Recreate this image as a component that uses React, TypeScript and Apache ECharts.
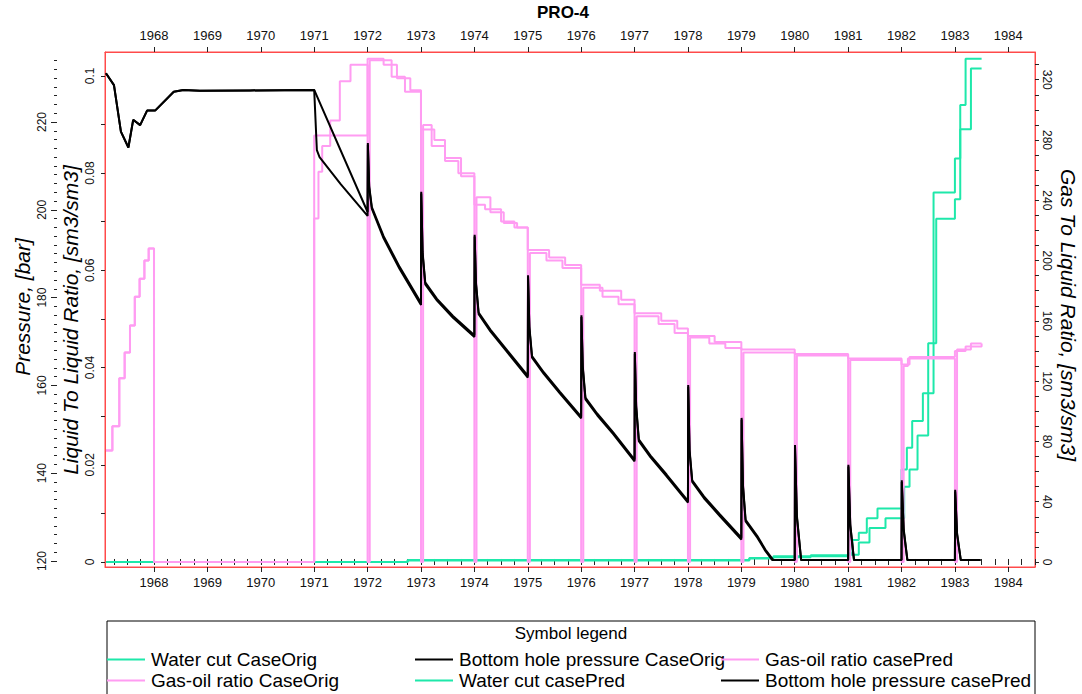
import React, { useEffect, useRef } from 'react';
import * as echarts from 'echarts';

const chartTitle = 'PRO-4';
const yearTicks = [1968, 1969, 1970, 1971, 1972, 1973, 1974, 1975, 1976, 1977, 1978, 1979, 1980, 1981, 1982, 1983, 1984];
const pressureLabels = [120, 140, 160, 180, 200, 220];
const ltlLabels = [0, 0.02, 0.04, 0.06, 0.08, 0.1];
const glrLabels = [0, 40, 80, 120, 160, 200, 240, 280, 320];

const seriesNames = {
  wcOrig: 'Water cut CaseOrig',
  wcPred: 'Water cut casePred',
  gorOrig: 'Gas-oil ratio CaseOrig',
  gorPred: 'Gas-oil ratio casePred',
  bhpOrig: 'Bottom hole pressure CaseOrig',
  bhpPred: 'Bottom hole pressure casePred',
};

// Bottom hole pressure [bar]
const bhpHistory = [
  [1967.10, 231.1], [1967.25, 228.4], [1967.38, 217.8], [1967.52, 214.2], [1967.61, 220.5],
  [1967.74, 219.3], [1967.87, 222.6], [1968.02, 222.6], [1968.37, 226.9], [1968.55, 227.3],
  [1968.86, 227.1], [1969.8, 227.2], [1971.0, 227.3],
];
const bhpPredFuture = [
  [1971.05, 213.6], [1971.1, 212.0], [1971.5, 205.8], [1972.0, 198.6],
  [1972.005, 215.2], [1972.03, 205.0], [1972.08, 200.2], [1972.3, 193.5], [1972.6, 186.5], [1973.0, 178.3],
  [1973.005, 204.1], [1973.03, 190.0], [1973.08, 183.0], [1973.3, 179.3], [1973.6, 175.4], [1974.0, 171.0],
  [1974.005, 194.3], [1974.03, 183.0], [1974.08, 176.2], [1974.3, 172.3], [1974.6, 167.8], [1975.0, 161.8],
  [1975.005, 185.1], [1975.03, 173.0], [1975.08, 166.3], [1975.3, 162.6], [1975.6, 158.2], [1976.0, 152.5],
  [1976.005, 176.0], [1976.03, 164.0], [1976.08, 156.8], [1976.3, 153.2], [1976.6, 148.9], [1977.0, 142.7],
  [1977.005, 167.6], [1977.03, 155.0], [1977.08, 147.3], [1977.3, 143.6], [1977.6, 139.3], [1978.0, 133.3],
  [1978.005, 160.1], [1978.03, 145.0], [1978.08, 138.0], [1978.3, 134.3], [1978.6, 130.2], [1979.0, 124.9],
  [1979.005, 152.6], [1979.03, 137.0], [1979.08, 129.0], [1979.3, 125.3], [1979.45, 122.3], [1979.58, 120.2], [1980.0, 120.2],
  [1980.005, 146.4], [1980.04, 130.0], [1980.12, 120.2], [1981.0, 120.2],
  [1981.005, 141.9], [1981.04, 128.0], [1981.11, 120.2], [1982.0, 120.2],
  [1982.005, 138.4], [1982.04, 127.0], [1982.11, 120.2], [1983.0, 120.2],
  [1983.005, 136.2], [1983.04, 126.0], [1983.11, 120.2], [1983.48, 120.2],
];
const bhpOrigFuture = [
  [1972.0, 199.5],
  [1972.005, 214.8], [1972.03, 205.4], [1972.08, 200.6], [1972.3, 194.0], [1972.6, 187.0], [1973.0, 178.8],
  [1973.005, 203.7], [1973.03, 190.4], [1973.08, 183.5], [1973.3, 179.7], [1973.6, 175.8], [1974.0, 171.4],
  [1974.005, 193.9], [1974.03, 183.4], [1974.08, 176.6], [1974.3, 172.7], [1974.6, 168.2], [1975.0, 162.2],
  [1975.005, 184.7], [1975.03, 173.4], [1975.08, 166.7], [1975.3, 163.0], [1975.6, 158.6], [1976.0, 152.9],
  [1976.005, 175.6], [1976.03, 164.4], [1976.08, 157.2], [1976.3, 153.6], [1976.6, 149.3], [1977.0, 143.1],
  [1977.005, 167.2], [1977.03, 155.4], [1977.08, 147.7], [1977.3, 144.0], [1977.6, 139.7], [1978.0, 133.7],
  [1978.005, 159.7], [1978.03, 145.4], [1978.08, 138.4], [1978.3, 134.7], [1978.6, 130.6], [1979.0, 125.3],
  [1979.005, 152.2], [1979.03, 137.4], [1979.08, 129.4], [1979.3, 125.7], [1979.45, 122.6], [1979.6, 120.2], [1980.0, 120.2],
  [1980.005, 146.0], [1980.04, 130.4], [1980.12, 120.2], [1981.0, 120.2],
  [1981.005, 141.5], [1981.04, 128.4], [1981.11, 120.2], [1982.0, 120.2],
  [1982.005, 138.0], [1982.04, 127.4], [1982.11, 120.2], [1983.0, 120.2],
  [1983.005, 135.8], [1983.04, 126.4], [1983.11, 120.2], [1983.48, 120.2],
];

// Water cut (on liquid-to-liquid ratio axis), step values
const wcOrig = [
  [1967.1, 0.0], [1972.75, 0.0003], [1979.15, 0.0007], [1979.6, 0.001], [1980.3, 0.0012],
  [1981.0, 0.0015], [1981.2, 0.004], [1981.4, 0.007], [1981.7, 0.009], [1982.05, 0.0155],
  [1982.15, 0.019], [1982.3, 0.026], [1982.5, 0.045], [1982.65, 0.0706], [1983.0, 0.0746],
  [1983.1, 0.089], [1983.3, 0.1015], [1983.5, 0.1015],
];
const wcPred = [
  [1967.1, 0.0], [1972.75, 0.0004], [1979.15, 0.0008], [1979.6, 0.0012], [1980.3, 0.0014],
  [1981.0, 0.0018], [1981.08, 0.0045], [1981.2, 0.006], [1981.35, 0.009], [1981.55, 0.011],
  [1982.0, 0.019], [1982.1, 0.0235], [1982.2, 0.029], [1982.4, 0.0347], [1982.6, 0.076],
  [1983.0, 0.083], [1983.1, 0.094], [1983.2, 0.1035], [1983.5, 0.1035],
];

// Gas-oil ratio (on gas-to-liquid ratio axis), step values
const gorHistory = [
  [1967.1, 74], [1967.22, 90], [1967.35, 122], [1967.45, 139], [1967.55, 157], [1967.64, 176],
  [1967.73, 188], [1967.82, 200], [1967.9, 208], [1968.0, 0],
];
const gorPredFuture = [
  [1971.0, 228], [1971.08, 259], [1971.15, 276], [1971.3, 293], [1971.48, 319], [1971.68, 330],
  [1972.0, 0], [1972.04, 333], [1972.45, 322], [1972.7, 312],
  [1973.0, 0], [1973.04, 290], [1973.2, 276], [1973.45, 266], [1973.7, 258],
  [1974.0, 0], [1974.04, 242], [1974.3, 232], [1974.55, 225], [1974.8, 222],
  [1975.0, 0], [1975.04, 205], [1975.35, 200], [1975.65, 195],
  [1976.0, 0], [1976.04, 182], [1976.4, 176], [1976.7, 171],
  [1977.0, 0], [1977.04, 163], [1977.45, 158], [1977.75, 152],
  [1978.0, 0], [1978.04, 149], [1978.4, 145], [1978.7, 142],
  [1979.0, 0], [1979.04, 139],
  [1980.0, 0], [1980.04, 137],
  [1981.0, 0], [1981.04, 134],
  [1982.0, 0], [1982.04, 130], [1982.12, 135],
  [1983.0, 0], [1983.04, 141], [1983.3, 145], [1983.5, 145],
];
const gorOrigFuture = [
  [1971.0, 283], [1972.0, 334], [1972.3, 330], [1972.55, 321], [1972.8, 313],
  [1973.0, 287], [1973.25, 280], [1973.45, 268], [1973.75, 256],
  [1974.0, 237], [1974.2, 234], [1974.5, 226], [1974.75, 222],
  [1975.0, 207], [1975.4, 202], [1975.7, 197],
  [1976.0, 184], [1976.35, 180], [1976.75, 174],
  [1977.0, 165], [1977.5, 160], [1977.8, 155],
  [1978.0, 150], [1978.5, 146],
  [1979.0, 141], [1980.0, 138], [1981.0, 135], [1982.0, 131], [1982.15, 136],
  [1983.0, 140], [1983.2, 143], [1983.5, 145],
];

const GREEN = '#1ee8aa';
const PINK = '#ff9cf2';
const BLACK = '#000000';
const RED = '#ff4a4a';
const LABEL_FONT = 'Arial, "Liberation Sans", sans-serif';

const X_MIN = 1967.082;
const X_MAX = 1984.5;

function range(a: number, b: number, step: number): number[] {
  const out: number[] = [];
  for (let v = a; v <= b + 1e-9; v += step) out.push(Math.round(v * 10000) / 10000);
  return out;
}

export default function App() {
  const ref = useRef<HTMLDivElement>(null);
  useEffect(() => {
    if (!ref.current) return;
    const chart = echarts.init(ref.current, undefined, { renderer: 'svg' });
    const quarterTicks = range(1967.25, 1984.5, 0.25);
    const axisLabelStyle = { color: '#111', fontFamily: LABEL_FONT };
    const xCommon = {
      type: 'value',
      min: X_MIN,
      max: X_MAX,
      splitLine: { show: false },
    };
    const lineSeries = (name: string, data: number[][], color: string, yAxisIndex: number, step: any, z: number) => ({
      name,
      type: 'line',
      data,
      xAxisIndex: 0,
      yAxisIndex,
      step,
      symbol: 'none',
      showSymbol: false,
      lineStyle: { color, width: 2 },
      itemStyle: { color },
      z,
    });
    const legendItem = (name: string, left: number, top: number) => ({
      orient: 'horizontal',
      left,
      top,
      icon: 'rect',
      itemWidth: 38,
      itemHeight: 2,
      itemGap: 0,
      padding: 0,
      selectedMode: false,
      data: [name],
      textStyle: { fontSize: 19, fontFamily: LABEL_FONT, color: '#000', padding: [0, 0, 0, 1] },
    });
    chart.setOption({
      animation: false,
      backgroundColor: '#fff',
      grid: { left: 105, right: 47, top: 52, bottom: 127, show: true, borderColor: RED, borderWidth: 1 },
      xAxis: [
        {
          ...xCommon,
          position: 'bottom',
          axisLine: { show: true, onZero: false, lineStyle: { color: RED } },
          axisTick: { show: true, customValues: yearTicks, length: 5, lineStyle: { color: '#222' } },
          axisLabel: { customValues: yearTicks, fontSize: 13, margin: 9, formatter: (v: number) => String(Math.round(v)), ...axisLabelStyle },
        },
        {
          ...xCommon,
          position: 'top',
          axisLine: { show: true, onZero: false, lineStyle: { color: RED } },
          axisTick: { show: true, customValues: yearTicks, length: 5, lineStyle: { color: '#222' } },
          axisLabel: { customValues: yearTicks, fontSize: 13, margin: 10, formatter: (v: number) => String(Math.round(v)), ...axisLabelStyle },
        },
        {
          ...xCommon,
          position: 'bottom',
          axisLine: { show: false },
          axisTick: { show: true, customValues: quarterTicks, length: 3, lineStyle: { color: '#222' } },
          axisLabel: { show: false },
        },
        {
          ...xCommon,
          position: 'top',
          axisLine: { show: false },
          axisTick: { show: true, customValues: quarterTicks, length: 3, lineStyle: { color: '#222' } },
          axisLabel: { show: false },
        },
      ],
      yAxis: [
        {
          type: 'value',
          position: 'left',
          min: -0.00103,
          max: 0.1049,
          splitLine: { show: false },
          axisLine: { show: true, onZero: false, lineStyle: { color: RED } },
          axisTick: { show: true, customValues: range(0, 0.1, 0.01), length: 4, lineStyle: { color: '#222' } },
          axisLabel: { customValues: ltlLabels, rotate: 90, fontSize: 12, margin: 9, formatter: (v: number) => String(+v.toFixed(2)), ...axisLabelStyle },
        },
        {
          type: 'value',
          position: 'left',
          offset: 48,
          min: 118.63,
          max: 235.95,
          splitLine: { show: false },
          axisLine: { show: false },
          axisTick: { show: true, customValues: pressureLabels, length: 6, lineStyle: { color: '#222' } },
          axisLabel: { customValues: pressureLabels, rotate: 90, fontSize: 12, margin: 9, formatter: (v: number) => String(Math.round(v)), ...axisLabelStyle },
        },
        {
          type: 'value',
          position: 'left',
          offset: 48,
          min: 118.63,
          max: 235.95,
          splitLine: { show: false },
          axisLine: { show: false },
          axisTick: { show: true, customValues: range(120, 234, 2), length: 3, lineStyle: { color: '#222' } },
          axisLabel: { show: false },
        },
        {
          type: 'value',
          position: 'right',
          min: -3.32,
          max: 338.4,
          splitLine: { show: false },
          axisLine: { show: true, onZero: false, lineStyle: { color: RED } },
          axisTick: { show: true, customValues: range(0, 330, 10), length: 4, lineStyle: { color: '#222' } },
          axisLabel: { customValues: glrLabels, rotate: -90, fontSize: 12, margin: 6, formatter: (v: number) => String(Math.round(v)), ...axisLabelStyle },
        },
      ],
      legend: [
        legendItem(seriesNames.wcOrig, 107, 650),
        legendItem(seriesNames.bhpOrig, 415, 650),
        legendItem(seriesNames.gorPred, 721, 650),
        legendItem(seriesNames.gorOrig, 107, 671),
        legendItem(seriesNames.wcPred, 415, 671),
        legendItem(seriesNames.bhpPred, 721, 671),
      ],
      graphic: [
        { type: 'text', x: 563, y: 12, style: { text: chartTitle, align: 'center', verticalAlign: 'middle', font: 'bold 17px Arial, "Liberation Sans", sans-serif', fill: '#000' } },
        { type: 'text', x: 22, y: 307, rotation: Math.PI / 2, style: { text: 'Pressure, [bar]', align: 'center', verticalAlign: 'middle', font: 'italic 21px Arial, "Liberation Sans", sans-serif', fill: '#000' } },
        { type: 'text', x: 70, y: 320, rotation: Math.PI / 2, style: { text: 'Liquid To Liquid Ratio, [sm3/sm3]', align: 'center', verticalAlign: 'middle', font: 'italic 21px Arial, "Liberation Sans", sans-serif', fill: '#000' } },
        { type: 'text', x: 1068, y: 315, rotation: -Math.PI / 2, style: { text: 'Gas To Liquid Ratio, [sm3/sm3]', align: 'center', verticalAlign: 'middle', font: 'italic 21px Arial, "Liberation Sans", sans-serif', fill: '#000' } },
        { type: 'rect', shape: { x: 107, y: 621, width: 928, height: 90 }, style: { fill: 'none', stroke: '#000', lineWidth: 1 }, silent: true },
        { type: 'text', x: 571, y: 633, style: { text: 'Symbol legend', align: 'center', verticalAlign: 'middle', font: '17px Arial, "Liberation Sans", sans-serif', fill: '#000' } },
      ],
      series: [
        lineSeries(seriesNames.wcOrig, wcOrig, GREEN, 0, 'end', 2),
        lineSeries(seriesNames.wcPred, wcPred, GREEN, 0, 'end', 2),
        lineSeries(seriesNames.gorOrig, [...gorHistory, ...gorOrigFuture], PINK, 3, 'end', 3),
        lineSeries(seriesNames.gorPred, [...gorHistory, ...gorPredFuture], PINK, 3, 'end', 3),
        lineSeries(seriesNames.bhpOrig, [...bhpHistory, ...bhpOrigFuture], BLACK, 1, false, 4),
        lineSeries(seriesNames.bhpPred, [...bhpHistory, ...bhpPredFuture], BLACK, 1, false, 4),
      ],
    });
    return () => chart.dispose();
  }, []);
  return <div ref={ref} style={{ position: 'fixed', left: 0, top: 0, width: 1082, height: 694 }} />;
}
